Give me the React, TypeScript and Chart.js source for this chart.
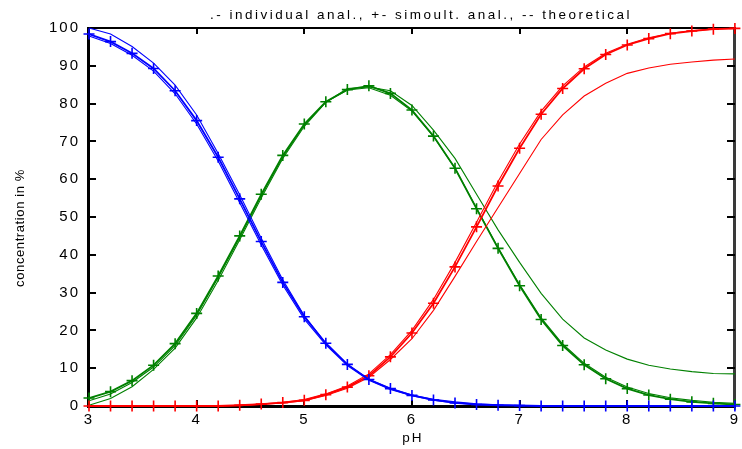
import { useEffect, useRef } from "react";
import { Chart, registerables } from "chart.js";

Chart.register(...registerables);

// pH grid of the titration (step 0.2)
const pH = [
  3.0, 3.2, 3.4, 3.6, 3.8, 4.0, 4.2, 4.4, 4.6, 4.8, 5.0, 5.2, 5.4, 5.6, 5.8, 6.0,
  6.2, 6.4, 6.6, 6.8, 7.0, 7.2, 7.4, 7.6, 7.8, 8.0, 8.2, 8.4, 8.6, 8.8, 9.0,
];

// Species 1 (blue)
const blueSimult = [
  98.4, 96.4, 93.3, 89.3, 83.4, 75.5, 65.8, 54.8, 43.5, 32.7, 23.6, 16.6, 11.0, 7.0, 4.6, 2.8,
  1.6, 0.8, 0.4, 0.2, 0.1, 0, 0, 0, 0, 0, 0, 0, 0, 0, 0,
];
const blueIndiv = [
  97.9, 95.9, 92.8, 88.6, 82.6, 74.6, 64.8, 53.8, 42.6, 32.0, 23.0, 16.2, 10.7, 6.8, 4.4, 2.7,
  1.5, 0.8, 0.4, 0.2, 0.1, 0, 0, 0, 0, 0, 0, 0, 0, 0, 0,
];
const blueTheor = [
  100.0, 98.4, 95.1, 90.7, 84.9, 77.0, 66.8, 55.9, 44.4, 33.4, 23.9, 16.5, 11.0, 7.1, 4.6, 2.9,
  1.8, 1.1, 0.6, 0.3, 0.2, 0.1, 0, 0, 0, 0, 0, 0, 0, 0, 0,
];

// Species 2 (green)
const greenSimult = [
  2.1, 3.8, 6.7, 10.8, 16.5, 24.5, 34.4, 45.0, 56.0, 66.3, 74.6, 80.5, 83.7, 84.7, 82.7, 78.3,
  71.4, 62.9, 52.2, 41.7, 31.8, 22.9, 16.0, 10.9, 7.2, 4.6, 2.9, 1.8, 1.1, 0.7, 0.4,
];
const greenIndiv = [
  1.4, 3.2, 6.2, 10.3, 16.0, 24.0, 34.0, 44.6, 55.6, 65.9, 74.4, 80.4, 83.6, 84.2, 82.2, 78.0,
  71.3, 62.9, 52.3, 41.9, 32.1, 23.3, 16.4, 11.3, 7.6, 5.0, 3.3, 2.2, 1.5, 1.0, 0.7,
];
const greenTheor = [
  0.2, 2.0, 5.1, 9.7, 15.3, 23.3, 33.2, 44.0, 55.0, 65.5, 74.0, 80.3, 84.0, 84.4, 83.4, 79.5,
  73.0, 65.5, 56.0, 46.6, 38.0, 29.8, 23.0, 18.0, 14.8, 12.4, 10.8, 9.8, 9.1, 8.6, 8.5,
];

// Species 3 (red)
const redSimult = [
  0, 0, 0, 0, 0, 0, 0, 0.2, 0.5, 0.9, 1.5, 3.0, 5.0, 8.0, 13.0, 19.3,
  27.2, 36.8, 47.4, 58.2, 68.2, 77.2, 84.0, 89.2, 93.0, 95.5, 97.2, 98.5, 99.2, 99.7, 99.9,
];
const redIndiv = [
  0, 0, 0, 0, 0, 0, 0, 0.2, 0.5, 1.0, 1.7, 3.2, 5.3, 8.5, 13.6, 20.0,
  28.2, 38.0, 48.6, 59.4, 69.3, 78.0, 84.7, 89.7, 93.3, 95.7, 97.4, 98.6, 99.3, 99.7, 99.9,
];
const redTheor = [
  0, 0, 0, 0, 0, 0, 0, 0.1, 0.4, 0.8, 1.4, 2.8, 4.7, 7.6, 12.3, 17.8,
  25.3, 34.3, 43.5, 52.5, 61.5, 70.5, 77.0, 82.0, 85.4, 88.0, 89.4, 90.4, 91.0, 91.5, 91.8,
];

const xTicks = [3, 4, 5, 6, 7, 8, 9];
const yTicks = [0, 10, 20, 30, 40, 50, 60, 70, 80, 90, 100];

const titleText = ".- individual anal., +- simoult. anal., -- theoretical";
const xTitle = "pH";
const yTitle = "concentration in %";

const BLUE = "#0000ff";
const GREEN = "#008000";
const RED = "#ff0000";

const FONT = '"Liberation Sans", Arial, sans-serif';

const pts = (ys: number[]) => pH.map((x, i) => ({ x, y: ys[i] }));

function simDataset(label: string, ys: number[], color: string) {
  return {
    label,
    data: pts(ys),
    borderColor: color,
    backgroundColor: color,
    borderWidth: 1.8,
    pointStyle: "cross" as const,
    pointRadius: 5.5,
    pointBorderWidth: 1.6,
    pointBorderColor: color,
    tension: 0,
    fill: false,
    clip: false as const,
  };
}

function plainDataset(label: string, ys: number[], color: string) {
  return {
    label,
    data: pts(ys),
    borderColor: color,
    backgroundColor: color,
    borderWidth: 1.1,
    pointRadius: 0,
    tension: 0,
    fill: false,
    clip: false as const,
  };
}

// Frame with inward ticks on all four sides; painted behind what is already drawn
function drawFrame(chart: any) {
  const ctx: CanvasRenderingContext2D = chart.ctx;
  const area = chart.chartArea;
  const L = Math.round(area.left);
  const R = Math.round(area.right);
  const T = Math.round(area.top);
  const B = Math.round(area.bottom);
  const xs = chart.scales.x;
  const ys = chart.scales.y;
  ctx.save();
  ctx.setTransform(1, 0, 0, 1, 0, 0);
  ctx.globalAlpha = 1;
  ctx.globalCompositeOperation = "destination-over";
  ctx.fillStyle = "#000000";

  // tick marks pointing into the plot
  for (const v of xTicks) {
    const px = Math.round(xs.getPixelForValue(v));
    ctx.fillRect(px - 1, B - 6, 2, 6);
    ctx.fillRect(px - 1, T, 2, 6);
  }
  for (const v of yTicks) {
    const py = Math.round(ys.getPixelForValue(v));
    ctx.fillRect(L, py - 1, 7, 2);
    ctx.fillRect(R - 8, py - 1, 8, 2);
  }

  // axes and border
  ctx.fillRect(L - 1, T - 1, R - L + 2, 2); // top
  ctx.fillRect(L - 1, B - 1, R - L + 2, 3); // bottom
  ctx.fillRect(L - 2, T - 1, 3, B - T + 3); // left
  ctx.fillStyle = "#3a3a3a";
  ctx.fillRect(R - 2, T - 1, 3, B - T + 3); // right
  ctx.restore();
}

const framePlugin = {
  id: "phFrame",
  beforeDraw(chart: any) {
    chart.ctx.letterSpacing = "2px";
  },
  afterDraw(chart: any) {
    drawFrame(chart);
    const ctx = chart.ctx;
    const { left, right, top, bottom } = chart.chartArea;
    ctx.save();
    ctx.globalCompositeOperation = "source-over";
    ctx.fillStyle = "#000";
    ctx.font = `13.5px ${FONT}`;
    ctx.letterSpacing = "2.5px";
    ctx.textBaseline = "alphabetic";
    ctx.textAlign = "center";
    ctx.fillText(titleText, (left + right) / 2 + 9, 18.5);
    ctx.letterSpacing = "2px";
    ctx.fillText(xTitle, (left + right) / 2 + 1, 442);

    ctx.font = `13px ${FONT}`;
    ctx.letterSpacing = "0.6px";
    ctx.translate(24, (top + bottom) / 2 + 11);
    ctx.rotate(-Math.PI / 2);
    ctx.fillText(yTitle, 0, 0);
    ctx.restore();
  },
};

export default function App() {
  const canvasRef = useRef<HTMLCanvasElement | null>(null);

  useEffect(() => {
    const canvas = canvasRef.current;
    if (!canvas) return;
    const chart = new Chart(canvas, {
      type: "line",
      data: {
        datasets: [
          simDataset("blue simult.", blueSimult, BLUE),
          plainDataset("blue individual", blueIndiv, BLUE),
          plainDataset("blue theoretical", blueTheor, BLUE),
          simDataset("red simult.", redSimult, RED),
          plainDataset("red individual", redIndiv, RED),
          plainDataset("red theoretical", redTheor, RED),
          simDataset("green simult.", greenSimult, GREEN),
          plainDataset("green individual", greenIndiv, GREEN),
          plainDataset("green theoretical", greenTheor, GREEN),
        ],
      },
      options: {
        animation: false,
        responsive: false,
        devicePixelRatio: 1,
        layout: { padding: { top: 28, right: 2, left: 0, bottom: 0 } },
        plugins: {
          legend: { display: false },
          title: { display: false },
          tooltip: { enabled: false },
        },
        scales: {
          x: {
            type: "linear",
            min: 3,
            max: 9,
            grid: { display: false, drawTicks: false },
            border: { display: false },
            afterBuildTicks: (s: any) => {
              s.ticks = xTicks.map((v) => ({ value: v }));
            },
            afterFit: (s: any) => {
              s.height = 43;
              s.paddingLeft = 0;
              s.paddingRight = 0;
            },
            ticks: {
              color: "#000",
              font: { family: FONT, size: 15 },
              padding: 5,
              maxRotation: 0,
              autoSkip: false,
            },
          },
          y: {
            type: "linear",
            min: 0,
            max: 100,
            grid: { display: false, drawTicks: false },
            border: { display: false },
            afterBuildTicks: (s: any) => {
              s.ticks = yTicks.map((v) => ({ value: v }));
            },
            afterFit: (s: any) => {
              s.width = 89;
              s.paddingTop = 0;
              s.paddingBottom = 0;
            },
            ticks: {
              color: "#000",
              font: { family: FONT, size: 15 },
              padding: 9,
              autoSkip: false,
            },
          },
        },
      },
      plugins: [framePlugin],
    });
    return () => chart.destroy();
  }, []);

  return (
    <div style={{ position: "absolute", left: 0, top: 0, width: 742, height: 449, background: "#fff" }}>
      <canvas ref={canvasRef} width={742} height={449} style={{ display: "block" }} />
    </div>
  );
}
